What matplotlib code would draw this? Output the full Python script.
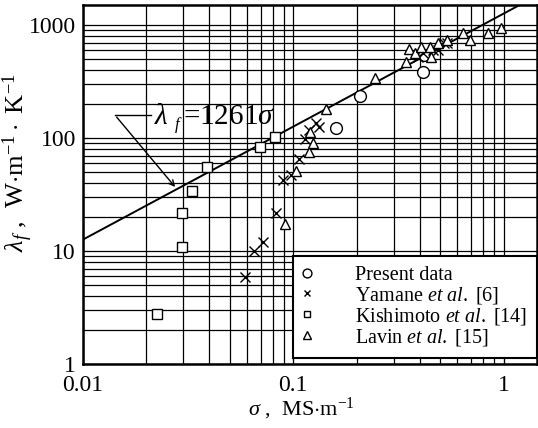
import matplotlib.pyplot as plt
import numpy as np

plt.rcParams["font.family"] = ["Liberation Serif", "DejaVu Serif"]
plt.rcParams["mathtext.fontset"] = "custom"
plt.rcParams["mathtext.rm"] = "Liberation Serif"
plt.rcParams["mathtext.it"] = "Liberation Serif:italic"

# Present data
present_sigma = [0.160, 0.208, 0.414, 0.42]
present_lam = [122, 235, 386, 540]

# Yamane et al. [6]
yamane_sigma = [0.0593, 0.0649, 0.072, 0.0832, 0.0896, 0.098, 0.107, 0.1135,
                0.119, 0.128, 0.132, 0.39, 0.412, 0.46, 0.49, 0.52, 0.54]
yamane_lam = [5.9, 10.1, 11.9, 21.6, 42.5, 47, 65, 99,
              118, 135, 126, 525, 565, 600, 600, 693, 690]

# Kishimoto et al. [14]
kishi_sigma = [0.0225, 0.0295, 0.0295, 0.033, 0.0388, 0.0694, 0.0817]
kishi_lam = [2.77, 10.8, 21.7, 34, 55.4, 83, 102]

# Lavin et al. [15]
lavin_sigma = [0.0912, 0.1035, 0.1186, 0.124, 0.12, 0.144, 0.244, 0.342, 0.357,
               0.38, 0.405, 0.445, 0.45, 0.49, 0.54, 0.641, 0.69, 0.84, 0.975]
lavin_lam = [17.2, 51, 75, 91, 114, 179, 337, 473, 609,
             563, 643, 643, 525, 689, 736, 845, 736, 845, 935]

coef = 1261

fig = plt.figure(figsize=(5.38, 4.28), dpi=100)
ax = fig.add_axes([0.154, 0.1495, 0.845, 0.8385])
ax.set_xscale("log")
ax.set_yscale("log")
ax.set_xlim(0.01, 1.45)
ax.set_ylim(1, 1500)

ax.grid(True, which="both", color="black", linewidth=0.9)
ax.set_axisbelow(True)

# correlation line
xs = np.array(ax.get_xlim())
ax.plot(xs, coef * xs, color="black", linewidth=1.4)

mk = dict(linestyle="none", markerfacecolor="white", markeredgecolor="black",
          markeredgewidth=1.0, color="black")
ax.plot(present_sigma, present_lam, marker="o", markersize=8.5, label="Present data", **mk)
ax.plot(yamane_sigma, yamane_lam, marker="x", markersize=6.5,
        label=r"Yamane $\mathit{et\ al.}$ [6]", **mk)
ax.plot(kishi_sigma, kishi_lam, marker="s", markersize=6.5,
        label=r"Kishimoto $\mathit{et\ al.}$ [14]", **mk)
ax.plot(lavin_sigma, lavin_lam, marker="^", markersize=7.5,
        label=r"Lavin $\mathit{et\ al.}$ [15]", **mk)

# label with leader line
ax.annotate("", xy=(0.028, coef * 0.028), xytext=(0.0142, 160),
            arrowprops=dict(arrowstyle="->", color="black", lw=1.0))
ax.plot([0.0142, 0.0212], [160, 160], color="black", linewidth=1.0)
ax.text(0.0218, 152, r"$\lambda$", fontsize=21, va="center", ha="left")
ax.text(0.0272, 130, r"$\mathit{f}$", fontsize=12, va="center", ha="left")
ax.text(0.0298, 152, r"=1261$\sigma$", fontsize=21, va="center", ha="left")

ax.set_xticks([0.01, 0.1, 1])
ax.set_xticklabels(["0.01", "0.1", "1"])
ax.set_yticks([1, 10, 100, 1000])
ax.set_yticklabels(["1", "10", "100", "1000"])
ax.tick_params(axis="both", which="major", labelsize=17, direction="in", length=4)
ax.tick_params(axis="x", which="major", pad=8)
ax.tick_params(axis="y", which="major", pad=5)
ax.tick_params(axis="both", which="minor", direction="in", length=2)

ax.set_xlabel(r"$\sigma$ ,  MS$\cdot$m$^{\mathregular{-1}}$", fontsize=16)
ax.xaxis.set_label_coords(0.48, -0.09)
ax.set_ylabel(r"$\lambda_f$ ,  W$\cdot$m$^{\mathregular{-1}}\cdot$ K$^{\mathregular{-1}}$",
              fontsize=19)
ax.yaxis.set_label_coords(-0.105, 0.56)

for s in ax.spines.values():
    s.set_linewidth(1.8)

leg = ax.legend(loc="lower right", bbox_to_anchor=(1.0, 0.017), fontsize=14.5,
                frameon=True, fancybox=False, edgecolor="black", framealpha=1,
                handletextpad=2.2, borderpad=0.5, labelspacing=0.0,
                markerscale=0.75, handlelength=0.4, borderaxespad=0)
leg.get_frame().set_linewidth(1.5)

fig.savefig("out.png", dpi=100)
